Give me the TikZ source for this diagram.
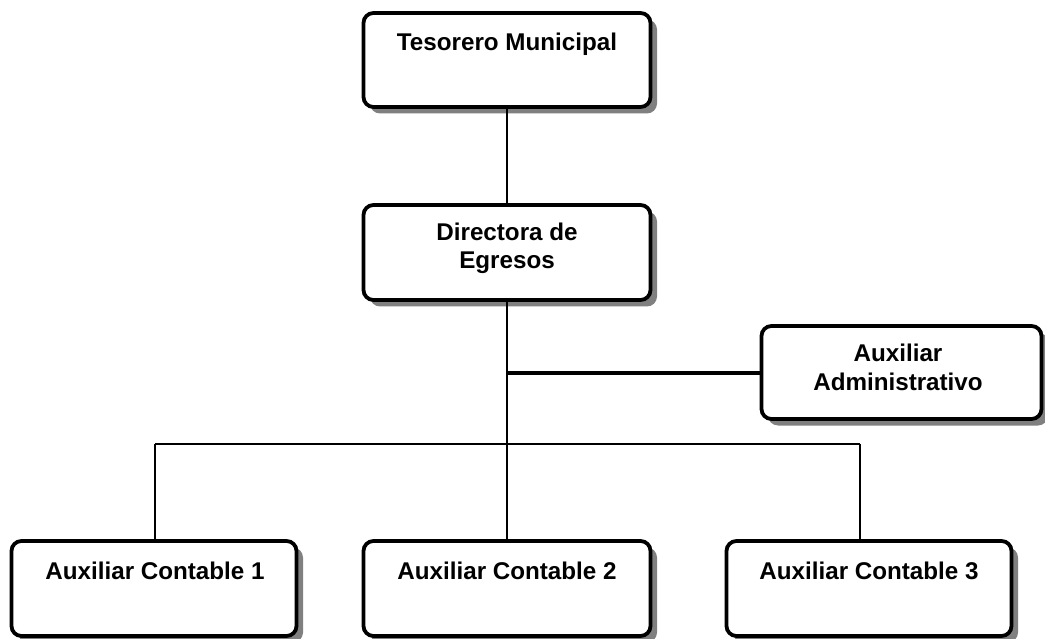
\documentclass[tikz,border=0pt]{standalone}
\usepackage{fontspec}
\setmainfont{Liberation Sans}
\usetikzlibrary{shadows}
\tikzset{
  orgbox/.style={draw=black, line width=3.8pt, rounded corners=10pt, fill=white,
    inner sep=0pt,
    drop shadow={shadow xshift=6.5pt, shadow yshift=-6.5pt, fill=black!50, opacity=1}},
  orgtext/.style={inner sep=0pt, align=center, anchor=base,
    font=\bfseries\fontsize{24.2}{28.5}\selectfont},
  link/.style={draw=black, line width=1.6pt},
  thicklink/.style={draw=black, line width=3.2pt}
}
\begin{document}
\begin{tikzpicture}[x=1pt,y=-1pt]
\useasboundingbox (0,0) rectangle (1045,639);

% boxes
\node[orgbox, minimum width=287pt, minimum height=94pt] (t) at (507,60) {};
\node[orgbox, minimum width=287pt, minimum height=95pt] (d) at (507,252.5) {};
\node[orgbox, minimum width=280pt, minimum height=93pt] (a) at (901.5,372.5) {};
\node[orgbox, minimum width=285pt, minimum height=95pt] (c1) at (154,588.5) {};
\node[orgbox, minimum width=287pt, minimum height=95pt] (c2) at (507,588.5) {};
\node[orgbox, minimum width=285pt, minimum height=95pt] (c3) at (869,588.5) {};

% labels (base anchor sits on the last line's baseline)
\node[orgtext] (tl) at (507,51) {Tesorero Municipal};
\node[orgtext] (dl) at (507,269) {Directora de\\Egresos};
\node[orgtext] (al) at (898,390) {Auxiliar\\Administrativo};
\node[orgtext] (c1l) at (155,579) {Auxiliar Contable 1};
\node[orgtext] (c2l) at (507,579) {Auxiliar Contable 2};
\node[orgtext] (c3l) at (869,579) {Auxiliar Contable 3};

% junctions
\coordinate (ja) at (507,373);
\coordinate (j1) at (155,444);
\coordinate (j3) at (860,444);

% connectors
\path[link] (t.south) -- (d.north);
\path[link] (d.south) -- (c2.north);
\path[thicklink] (ja) -- (ja -| a.west);
\path[link] (j1) -- (j3);
\path[link] (j1) -- (j1 |- c1.north);
\path[link] (j3) -- (j3 |- c3.north);
\end{tikzpicture}
\end{document}
